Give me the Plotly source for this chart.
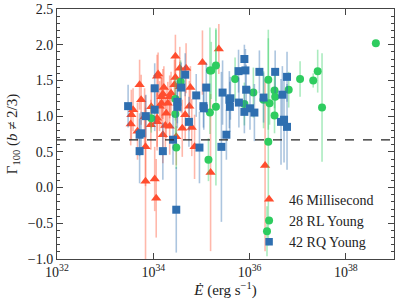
import plotly.graph_objects as go

# ---- data ----
msp_edot = [3.4e33, 3.8e33, 3.5e33, 4.7e33, 5.2e33, 5.6e33, 6.6e33, 6.9e33, 6.9e33, 9.1e33,
            8.9e33, 1.07e34, 1.15e34, 1.26e34, 1.2e34, 1.2e34, 1.35e34, 1.66e34, 1.58e34, 1.48e34,
            1.48e34, 1.58e34, 1.86e34, 1.78e34, 2.19e34, 2.34e34, 2.19e34, 2.0e34, 2.88e34, 2.88e34,
            2.75e34, 3.55e34, 4.0e34, 4.8e34, 5.9e34, 5.6e34, 4.6e34, 6.3e34, 7.2e34, 1.05e35,
            2.3e35, 1.55e35, 2.1e36, 3.55e34, 3.0e34, 1.2e34]
msp_gamma = [0.89, 1.09, 1.02, 0.79, 1.44, 1.23, 0.99, 0.57, 0.09, 1.13,
             0.88, 0.12, -0.15, 1.59, 1.56, 0.97, 1.14, 1.40, 1.31, 1.27,
             1.18, 0.74, 1.04, 0.87, 1.27, 1.32, 0.86, 1.18, 1.84, 1.54,
             1.44, 1.67, 0.83, 1.67, 1.40, 1.14, 1.02, 0.84, 0.57, 1.75,
             1.94, 0.21, 0.31, 1.41, 0.71, 0.92]
msp_err = [0.3, 0.3, 0.35, 0.4, 0.35, 0.35, 0.4, 0.55, 1.2, 0.3,
           0.35, 0.45, 0.55, 0.3, 0.3, 0.4, 0.35, 0.3, 0.35, 0.3,
           0.35, 0.4, 0.35, 0.4, 0.3, 0.3, 0.4, 0.3, 0.3, 0.3,
           0.35, 0.3, 0.4, 0.35, 0.3, 0.35, 0.35, 0.4, 0.45, 0.45,
           0.35, 1.1, 1.2, 0.35, 0.4, 0.4]

rl_edot = [9.1e33, 2.88e34, 3.7e34, 2.88e34, 3.0e34, 4.2e38, 2.0e35, 1.5e35, 1.6e35, 5.0e35,
           2.0e35, 1.5e35, 1.2e36, 7.8e35, 2.45e36, 3.3e36, 3.4e36, 2.6e36, 1.95e36, 3.3e36,
           6.5e36, 1.12e37, 2.1e37, 2.6e37, 3.2e37, 2.45e36, 1.4e35, 2.3e36]
rl_gamma = [0.97, 1.24, 1.48, 1.03, 0.56, 2.02, 1.71, 1.64, 1.64, 1.52,
            1.13, 1.05, 1.33, 1.17, 1.51, 1.36, 1.27, 1.18, 1.23, 1.01,
            1.37, 1.52, 1.50, 1.63, 1.12, 0.64, 0.39, -0.61]
rl_err = [0.2, 0.3, 0.3, 0.3, 0.3, 0.0, 0.5, 0.6, 0.4, 0.3,
          1.1, 0.3, 0.35, 0.3, 0.7, 0.25, 0.3, 0.3, 0.4, 0.25,
          0.25, 0.25, 0.1, 0.3, 0.76, 1.45, 0.3, 0.35]

rq_edot = [3.0e33, 1.07e34, 1.07e34, 4.6e34, 3.8e34, 3.16e34, 3.16e34, 5.5e34, 7.8e34, 5.2e33,
           5.6e33, 5.2e33, 1.58e34, 2.57e34, 9.1e34, 3.0e34, 1.26e35, 1.1e35, 1.12e35, 2.75e35,
           3.8e35, 4.0e35, 3.9e35, 5.9e35, 7.8e35, 8.2e35, 6.0e35, 8.5e35, 7.8e35, 1.02e36,
           1.26e36, 1.6e36, 1.95e36, 3.4e36, 4.8e36, 6.0e36, 4.5e36, 5.2e36, 6.0e36, 3.3e35,
           2.6e35, 7.0e33]
rq_gamma = [1.14, 1.39, 1.09, 1.58, 1.40, 1.20, 1.13, 0.92, 1.29, 0.74,
            0.76, 0.51, 0.51, 0.67, 0.56, -0.31, 1.40, 1.14, 1.11, 1.33,
            1.23, 1.25, 1.13, 1.63, 1.80, 1.64, 1.19, 1.37, 1.06, 1.11,
            1.05, 1.62, 1.26, 1.62, 1.30, 1.55, 0.92, 0.95, 0.85, 0.74,
            0.57, 1.00]
rq_err = [0.3, 0.35, 0.3, 0.3, 0.35, 0.3, 0.3, 0.35, 0.3, 0.3,
          0.3, 0.45, 0.4, 0.35, 0.5, 0.6, 0.35, 0.3, 0.3, 0.45,
          0.4, 0.3, 0.35, 0.3, 0.2, 0.3, 0.35, 0.35, 0.3, 0.3,
          0.4, 0.3, 0.35, 0.3, 0.4, 0.35, 0.6, 0.6, 0.6, 0.35,
          1.05, 0.3]

labels = ["46 Millisecond", "28 RL Young", "42 RQ Young"]
gamma_ref = 2 / 3
x_tickvals = [1e32, 1e34, 1e36, 1e38]
x_ticktext = ["10<sup>32</sup>", "10<sup>34</sup>", "10<sup>36</sup>", "10<sup>38</sup>"]

FONT = "Liberation Serif"
C_MSP = "#ff4d2e"
C_RL = "#2ecc5f"
C_RQ = "#2f6fb0"

fig = go.Figure()

series = [
    (msp_edot, msp_gamma, msp_err, C_MSP, "rgba(255,77,46,0.4)", "triangle-up", 9, 9, labels[0]),
    (rl_edot, rl_gamma, rl_err, C_RL, "rgba(46,204,95,0.4)", "circle", 8, 8, labels[1]),
    (rq_edot, rq_gamma, rq_err, C_RQ, "rgba(47,111,176,0.4)", "square", 8, 7.5, labels[2]),
]

for xs, ys, es, color, ecolor, symbol, size, lsize, name in series:
    fig.add_trace(go.Scatter(
        x=xs, y=ys, mode="markers", name=name, showlegend=False,
        marker=dict(color=color, symbol=symbol, size=size, line=dict(width=0)),
        error_y=dict(type="data", array=es, visible=True, color=ecolor, thickness=1.6, width=0),
    ))

for xs, ys, es, color, ecolor, symbol, size, lsize, name in series:
    fig.add_trace(go.Scatter(
        x=[None], y=[None], mode="markers", name=name, showlegend=True,
        marker=dict(color=color, symbol=symbol, size=lsize, line=dict(width=0)),
    ))

fig.add_shape(type="line", xref="paper", x0=0, x1=1, yref="y", y0=gamma_ref, y1=gamma_ref,
              line=dict(color="#222", width=1.2, dash="dash"))

axis_common = dict(showline=True, linecolor="#444", linewidth=1, mirror="ticks",
                   ticks="inside", tickcolor="#444", showgrid=False, zeroline=False,
                   automargin=False,
                   tickfont=dict(family=FONT, size=14, color="#222"))

fig.update_xaxes(type="log", range=[32, 39], tickvals=x_tickvals, ticktext=x_ticktext,
                 ticklen=6,
                 title=dict(text="<i>Ė</i> (erg s<sup>−1</sup>)", font=dict(family=FONT, size=15, color="#222"),
                            standoff=4),
                 **axis_common)
fig.update_yaxes(range=[-1.0, 2.5], dtick=0.5, tickformat=".1f", ticklen=6,
                 minor=dict(dtick=0.1, ticks="inside", ticklen=3, tickcolor="#444"),
                 title=dict(text="Γ<sub>100</sub> (<i>b</i> ≠ 2/3)", font=dict(family=FONT, size=15, color="#222"),
                            standoff=6),
                 **axis_common)

fig.update_layout(
    width=398, height=304,
    margin=dict(l=57, r=4, t=9, b=45),
    plot_bgcolor="white", paper_bgcolor="white",
    font=dict(family=FONT, size=14, color="#222"),
    showlegend=True,
    legend=dict(x=0.57, y=0.005, xanchor="left", yanchor="bottom",
                bgcolor="rgba(0,0,0,0)", font=dict(family=FONT, size=14, color="#222"),
                tracegroupgap=0, itemwidth=30),
)

fig.write_html("out.html", config={"displayModeBar": False},
               post_script="document.body.style.margin='0';")
